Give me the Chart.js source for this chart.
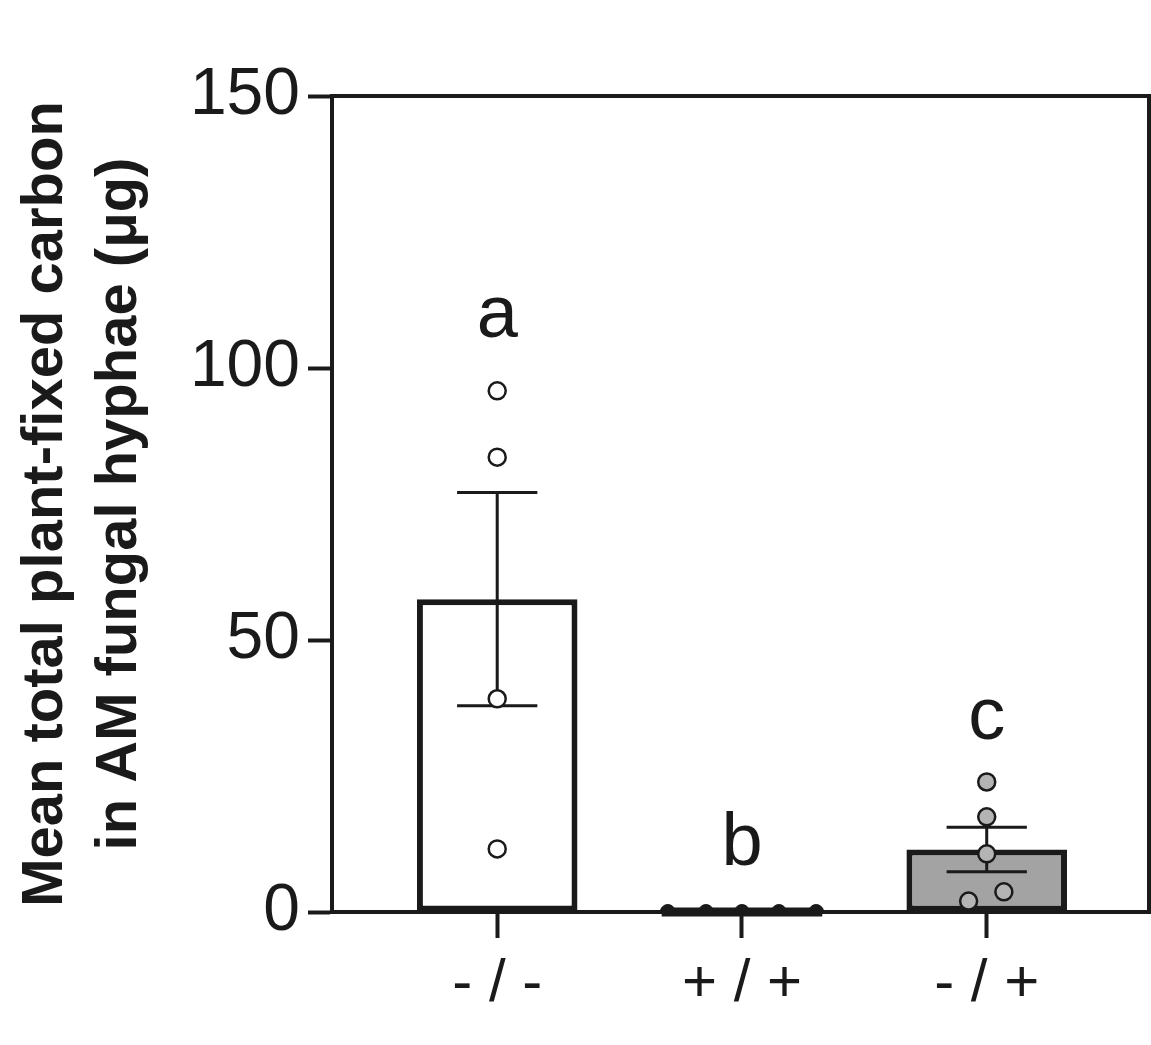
<!DOCTYPE html>
<html>
<head>
<meta charset="utf-8">
<script src="https://cdn.jsdelivr.net/npm/chart.js@4"></script>
<style>
  html, body { margin: 0; padding: 0; background: #ffffff; }
  canvas { display: block; }
</style>
</head>
<body>
<canvas id="c" width="1151" height="1045"></canvas>
<script>
// ---- data ----
const categories = ['- / -', '+ / +', '- / +'];
const means = [57.5, 0, 11.5];
const sems = [19.6, 0, 4.1];
const groupA = [95.8, 83.6, 39.2, 11.6];
const jitterA = [0, 0, 0, 0];
const groupB = [0, 0, 0, 0, 0];
const jitterB = [-0.303, -0.147, 0, 0.151, 0.303];
const groupC = [23.9, 17.5, 10.7, 3.7, 2.0];
const jitterC = [0, 0, 0, 0.07, -0.074];
const letters = ['a', 'b', 'c'];
const letterY = [105.7, 8.6, 31.8];
const yTicks = [0, 50, 100, 150];
const yTitle = ['Mean total plant-fixed carbon', 'in AM fungal hyphae (\u03bcg)'];

const INK = '#1a1a1a';
const FONT = '"Liberation Sans", Arial, Helvetica, sans-serif';

function pts(vals, jit, idx) {
  return vals.map((v, i) => ({ x: idx + jit[i], y: v }));
}

const overlay = {
  id: 'overlay',
  beforeDatasetsDraw(chart) {
    const { ctx, chartArea: a } = chart;
    ctx.save();
    ctx.strokeStyle = INK;
    ctx.lineWidth = 4;
    ctx.beginPath();
    ctx.moveTo(a.left - 2, a.top);
    ctx.lineTo(a.right, a.top);
    ctx.lineTo(a.right, a.bottom + 2);
    ctx.stroke();
    ctx.restore();
  },
  afterDatasetDraw(chart, args) {
    if (args.index !== 0) return;
    const { ctx } = chart;
    const ys = chart.scales.y;
    const meta = chart.getDatasetMeta(0);
    ctx.save();
    ctx.strokeStyle = INK;
    meta.data.forEach((el, i) => {
      const p = el.getProps(['x', 'y', 'base', 'width'], true);
      if (Math.abs(p.base - p.y) < 1) {
        ctx.lineWidth = 9;
        ctx.beginPath();
        ctx.moveTo(p.x - p.width / 2, p.y);
        ctx.lineTo(p.x + p.width / 2, p.y);
        ctx.stroke();
      }
      if (sems[i] > 0) {
        const yHi = ys.getPixelForValue(means[i] + sems[i]);
        const yLo = ys.getPixelForValue(means[i] - sems[i]);
        const cap = p.width * 0.25;
        ctx.lineWidth = 3;
        ctx.beginPath();
        ctx.moveTo(p.x, yHi); ctx.lineTo(p.x, yLo);
        ctx.moveTo(p.x - cap, yHi); ctx.lineTo(p.x + cap, yHi);
        ctx.moveTo(p.x - cap, yLo); ctx.lineTo(p.x + cap, yLo);
        ctx.stroke();
      }
    });
    ctx.restore();
  },
  afterDraw(chart) {
    const { ctx } = chart;
    const xs = chart.scales.x, ys = chart.scales.y;
    ctx.save();
    ctx.fillStyle = INK;
    ctx.font = '74px ' + FONT;
    ctx.textAlign = 'center';
    ctx.textBaseline = 'alphabetic';
    letters.forEach((t, i) => {
      ctx.fillText(t, xs.getPixelForValue(i), ys.getPixelForValue(letterY[i]));
    });
    ctx.restore();
  }
};

new Chart(document.getElementById('c'), {
  type: 'bar',
  data: {
    datasets: [
      {
        type: 'bar',
        order: 3,
        data: means.map((m, i) => ({ x: i, y: m })),
        backgroundColor: ['#ffffff', '#ffffff', '#a3a3a3'],
        borderColor: INK,
        borderWidth: 6,
        borderSkipped: false,
        barPercentage: 0.82,
        categoryPercentage: 0.8
      },
      {
        type: 'scatter', order: 1,
        data: pts(groupA, jitterA, 0),
        pointRadius: 8.5, pointBorderWidth: 2.5,
        pointBackgroundColor: '#ffffff', pointBorderColor: INK
      },
      {
        type: 'scatter', order: 1,
        data: pts(groupB, jitterB, 1),
        pointRadius: 7.5, pointBorderWidth: 1,
        pointBackgroundColor: INK, pointBorderColor: INK
      },
      {
        type: 'scatter', order: 1,
        data: pts(groupC, jitterC, 2),
        pointRadius: 8.5, pointBorderWidth: 2.5,
        pointBackgroundColor: '#b4b4b4', pointBorderColor: INK
      }
    ]
  },
  options: {
    responsive: false,
    animation: false,
    events: [],
    layout: { autoPadding: false, padding: { top: 96, right: 2, left: 0, bottom: 0 } },
    plugins: { legend: { display: false }, tooltip: { enabled: false } },
    scales: {
      x: {
        type: 'linear',
        offset: false,
        min: -0.675,
        max: 2.663,
        afterBuildTicks(scale) { scale.ticks = categories.map((c, i) => ({ value: i })); },
        afterFit(scale) { scale.height = 133; scale.paddingLeft = 0; scale.paddingRight = 0; },
        ticks: {
          callback: (v) => categories[v],
          color: INK,
          font: { family: FONT, size: 60 },
          padding: 10,
          maxRotation: 0,
          autoSkip: false
        },
        grid: { offset: false, drawOnChartArea: false, drawTicks: true, tickLength: 26, tickWidth: 4, tickColor: INK },
        border: { display: true, width: 4, color: INK }
      },
      y: {
        type: 'linear',
        min: 0,
        max: 150,
        afterBuildTicks(scale) { scale.ticks = yTicks.map(v => ({ value: v })); },
        afterFit(scale) { scale.width = 332; },
        ticks: {
          color: INK,
          font: { family: FONT, size: 66 },
          padding: 8
        },
        grid: { drawOnChartArea: false, drawTicks: true, tickLength: 24, tickWidth: 4, tickColor: INK },
        border: { display: true, width: 4, color: INK },
        title: {
          display: true,
          text: yTitle,
          color: INK,
          font: { family: FONT, size: 58, weight: 'bold', lineHeight: 1.28 },
          padding: { top: 9, bottom: 0 }
        }
      }
    }
  },
  plugins: [overlay]
});
</script>
</body>
</html>
